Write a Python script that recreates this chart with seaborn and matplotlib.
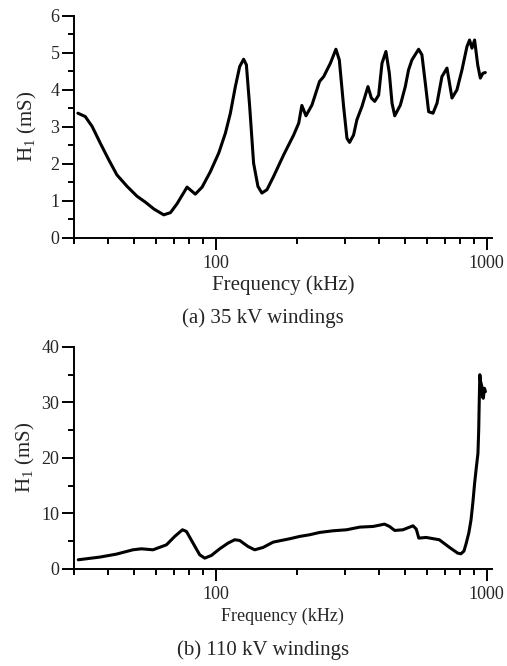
import numpy as np
import pandas as pd
import seaborn as sns
import matplotlib.pyplot as plt
from matplotlib.ticker import FixedLocator, NullFormatter

# data (frequency in kHz, H1 in mS)
freq_35 = [31.0, 33.0, 35.0, 37.5, 40.3, 43.2, 47.1, 51.3, 55.1, 59.1, 64.3, 68.1, 72.0,
           78.4, 84.1, 89.1, 95.6, 102.6, 108.6, 113.3, 118.2, 122.6, 126.8, 129.8,
           133.5, 138, 143.2, 148.1, 154.6, 163.6, 178.1, 194, 202.5, 208, 215.4, 226.6,
           241.8, 250.4, 265, 277.8, 286, 296.6, 305.2, 312, 322.8, 332, 346.6, 364.8,
           375.5, 386.4, 399.5, 411, 425, 437.5, 447.6, 458, 480.5, 501, 515, 530, 561,
           577, 594, 611, 634, 656, 684, 714, 745, 777, 811, 846, 865, 883, 903, 927,
           948, 969, 989]
h1_35 = [3.37, 3.28, 3.01, 2.56, 2.11, 1.70, 1.39, 1.12, 0.96, 0.78, 0.62, 0.68, 0.92,
         1.37, 1.18, 1.37, 1.79, 2.29, 2.83, 3.37, 4.09, 4.63, 4.83, 4.68,
         3.55, 2.02, 1.39, 1.21, 1.30, 1.66, 2.24, 2.78, 3.10, 3.58, 3.30, 3.59,
         4.23, 4.36, 4.72, 5.10, 4.81, 3.55, 2.69, 2.58, 2.78, 3.19, 3.55, 4.09,
         3.78, 3.69, 3.86, 4.72, 5.04, 4.45, 3.64, 3.30, 3.59, 4.09, 4.54, 4.81, 5.10,
         4.95, 4.18, 3.41, 3.37, 3.64, 4.36, 4.59, 3.78, 4.00, 4.54, 5.17, 5.35, 5.13, 5.35, 4.68,
         4.32, 4.45, 4.47]

freq_110 = [31.1, 37.3, 43.0, 49.5, 53.2, 58.7, 65.8, 70.6, 75.4, 78.0, 82.5, 87.3, 91.1,
            96.4, 103.5, 111, 117.5, 122.6, 131.6, 139.3, 149.5, 162.9, 174.9, 187.6,
            204, 222, 242, 271, 304, 340, 381, 420, 438, 458, 491, 535, 550, 562, 598,
            669, 730, 782, 804, 825, 841, 860, 876, 890, 903, 915, 929, 935, 939, 944,
            950, 961, 966, 972, 982, 990]
h1_110 = [1.62, 2.10, 2.64, 3.42, 3.60, 3.42, 4.32, 5.83, 7.03, 6.73, 4.62, 2.52, 1.92,
          2.40, 3.60, 4.62, 5.23, 5.11, 4.02, 3.42, 3.84, 4.80, 5.11, 5.41,
          5.83, 6.13, 6.55, 6.85, 7.03, 7.51, 7.63, 8.05, 7.63, 6.91, 7.03, 7.75, 7.15, 5.53, 5.65,
          5.23, 3.84, 2.82, 2.70, 3.20, 4.62, 6.50, 8.83, 12.0, 15.4, 18.0, 20.8, 25.0, 29.9, 35.0,
          33.8, 32.85, 31.0, 30.75, 32.55, 31.95]

df35 = pd.DataFrame({'f': freq_35, 'h': h1_35})
df110 = pd.DataFrame({'f': freq_110, 'h': h1_110})

sns.set_style('ticks')
plt.rcParams['font.family'] = ['Liberation Serif', 'DejaVu Serif']
plt.rcParams['mathtext.fontset'] = 'custom'
plt.rcParams['mathtext.rm'] = 'Liberation Serif'

fig = plt.figure(figsize=(5.07, 6.66), dpi=100)
ax1 = fig.add_axes([0.146, 0.643, 0.824, 0.333])
ax2 = fig.add_axes([0.146, 0.146, 0.824, 0.333])

minor_x = [30, 40, 50, 60, 70, 80, 90, 200, 300, 400, 500, 600, 700, 800, 900]


def style_axes(ax, ymax, ystep):
    ax.set_xscale('log')
    ax.set_xlim(30, 1045)
    ax.set_ylim(0, ymax)
    ax.xaxis.set_major_locator(FixedLocator([100, 1000]))
    ax.xaxis.set_minor_locator(FixedLocator(minor_x))
    ax.xaxis.set_minor_formatter(NullFormatter())
    ax.set_xticklabels(['100', '1000'])
    ax.yaxis.set_major_locator(FixedLocator(np.arange(0, ymax + ystep / 2, ystep)))
    ax.yaxis.set_minor_locator(FixedLocator(np.arange(ystep / 2, ymax, ystep)))
    for side in ['top', 'right']:
        ax.spines[side].set_visible(False)
    for side in ['left', 'bottom']:
        ax.spines[side].set_linewidth(1.4)
        ax.spines[side].set_color('black')
    ax.tick_params(which='major', direction='out', length=8.5, width=1.4,
                   labelsize=13, color='black', pad=2)
    ax.tick_params(axis='x', which='major', pad=4)
    ax.tick_params(which='minor', direction='out', length=4.5, width=1.4, color='black')


sns.lineplot(data=df35, x='f', y='h', ax=ax1, color='black', linewidth=2.2,
             estimator=None, sort=False)
style_axes(ax1, 6, 1)
ax1.set_xlabel('Frequency (kHz)', fontsize=15, labelpad=2)
ax1.set_ylabel(r'H$_1$ (mS)', fontsize=15, labelpad=8)

sns.lineplot(data=df110, x='f', y='h', ax=ax2, color='black', linewidth=2.2,
             estimator=None, sort=False)
style_axes(ax2, 40, 10)
ax2.set_xlabel('Frequency (kHz)', fontsize=13, labelpad=3)
ax2.set_ylabel(r'H$_1$ (mS)', fontsize=15, labelpad=3)

fig.text(0.519, 1 - 318 / 666, '(a) 35 kV windings', ha='center', va='center', fontsize=15)
fig.text(0.519, 1 - 650 / 666, '(b) 110 kV windings', ha='center', va='center', fontsize=15)

fig.savefig('out.png', dpi=100)
